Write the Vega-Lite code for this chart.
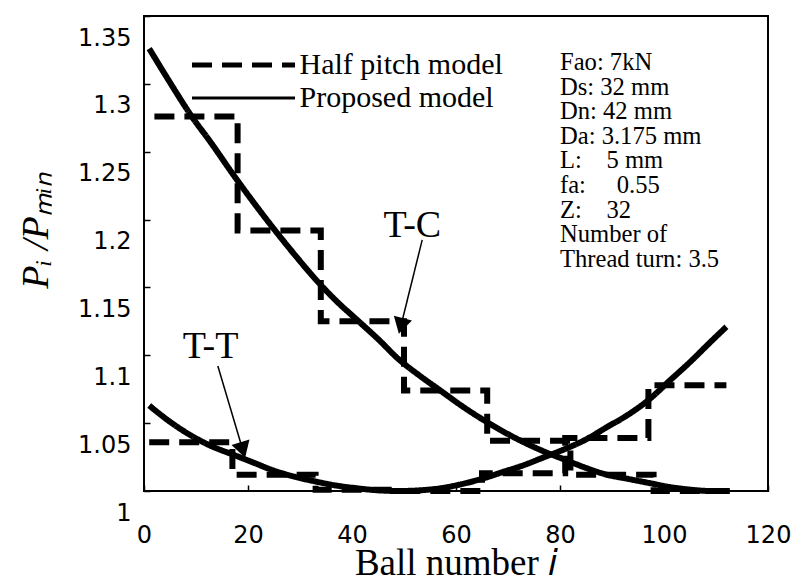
{
  "$schema": "https://vega.github.io/schema/vega-lite/v6.json",
  "width": 624,
  "height": 475,
  "autosize": "none",
  "padding": {"left": 144, "top": 16, "right": 36, "bottom": 90},
  "background": "white",
  "config": {
    "view": {"stroke": "black", "strokeWidth": 2},
    "axis": {"grid": false, "domain": false}
  },
  "datasets": {
    "curves": [
      {"curve": "TC-half", "model": "Half pitch model", "x": 2, "y": 1.276},
      {"curve": "TC-half", "model": "Half pitch model", "x": 18, "y": 1.192},
      {"curve": "TC-half", "model": "Half pitch model", "x": 34, "y": 1.125},
      {"curve": "TC-half", "model": "Half pitch model", "x": 50, "y": 1.074},
      {"curve": "TC-half", "model": "Half pitch model", "x": 66, "y": 1.037},
      {"curve": "TC-half", "model": "Half pitch model", "x": 82, "y": 1.012},
      {"curve": "TC-half", "model": "Half pitch model", "x": 98, "y": 1.0},
      {"curve": "TC-half", "model": "Half pitch model", "x": 114, "y": 1.0},
      {"curve": "TT-half", "model": "Half pitch model", "x": 1, "y": 1.036},
      {"curve": "TT-half", "model": "Half pitch model", "x": 17, "y": 1.012},
      {"curve": "TT-half", "model": "Half pitch model", "x": 33, "y": 1.001},
      {"curve": "TT-half", "model": "Half pitch model", "x": 49, "y": 1.0},
      {"curve": "TT-half", "model": "Half pitch model", "x": 65, "y": 1.013},
      {"curve": "TT-half", "model": "Half pitch model", "x": 81, "y": 1.039},
      {"curve": "TT-half", "model": "Half pitch model", "x": 97, "y": 1.078},
      {"curve": "TT-half", "model": "Half pitch model", "x": 112, "y": 1.078},
      {"curve": "TC-prop", "model": "Proposed model", "x": 1, "y": 1.326},
      {"curve": "TC-prop", "model": "Proposed model", "x": 5, "y": 1.301},
      {"curve": "TC-prop", "model": "Proposed model", "x": 9, "y": 1.277},
      {"curve": "TC-prop", "model": "Proposed model", "x": 13, "y": 1.256},
      {"curve": "TC-prop", "model": "Proposed model", "x": 17, "y": 1.234},
      {"curve": "TC-prop", "model": "Proposed model", "x": 21, "y": 1.213},
      {"curve": "TC-prop", "model": "Proposed model", "x": 25, "y": 1.193},
      {"curve": "TC-prop", "model": "Proposed model", "x": 29, "y": 1.174},
      {"curve": "TC-prop", "model": "Proposed model", "x": 33, "y": 1.156},
      {"curve": "TC-prop", "model": "Proposed model", "x": 37, "y": 1.14},
      {"curve": "TC-prop", "model": "Proposed model", "x": 41, "y": 1.126},
      {"curve": "TC-prop", "model": "Proposed model", "x": 45, "y": 1.112},
      {"curve": "TC-prop", "model": "Proposed model", "x": 49, "y": 1.097},
      {"curve": "TC-prop", "model": "Proposed model", "x": 53, "y": 1.085},
      {"curve": "TC-prop", "model": "Proposed model", "x": 57, "y": 1.074},
      {"curve": "TC-prop", "model": "Proposed model", "x": 61, "y": 1.063},
      {"curve": "TC-prop", "model": "Proposed model", "x": 65, "y": 1.053},
      {"curve": "TC-prop", "model": "Proposed model", "x": 69, "y": 1.044},
      {"curve": "TC-prop", "model": "Proposed model", "x": 73, "y": 1.036},
      {"curve": "TC-prop", "model": "Proposed model", "x": 77, "y": 1.029},
      {"curve": "TC-prop", "model": "Proposed model", "x": 81, "y": 1.023},
      {"curve": "TC-prop", "model": "Proposed model", "x": 85, "y": 1.017},
      {"curve": "TC-prop", "model": "Proposed model", "x": 89, "y": 1.012},
      {"curve": "TC-prop", "model": "Proposed model", "x": 93, "y": 1.009},
      {"curve": "TC-prop", "model": "Proposed model", "x": 97, "y": 1.006},
      {"curve": "TC-prop", "model": "Proposed model", "x": 101, "y": 1.003},
      {"curve": "TC-prop", "model": "Proposed model", "x": 105, "y": 1.001},
      {"curve": "TC-prop", "model": "Proposed model", "x": 109, "y": 1.0},
      {"curve": "TC-prop", "model": "Proposed model", "x": 112, "y": 1.0},
      {"curve": "TT-prop", "model": "Proposed model", "x": 1, "y": 1.063},
      {"curve": "TT-prop", "model": "Proposed model", "x": 5, "y": 1.051},
      {"curve": "TT-prop", "model": "Proposed model", "x": 9, "y": 1.041},
      {"curve": "TT-prop", "model": "Proposed model", "x": 13, "y": 1.033},
      {"curve": "TT-prop", "model": "Proposed model", "x": 17, "y": 1.027},
      {"curve": "TT-prop", "model": "Proposed model", "x": 21, "y": 1.021},
      {"curve": "TT-prop", "model": "Proposed model", "x": 25, "y": 1.015},
      {"curve": "TT-prop", "model": "Proposed model", "x": 29, "y": 1.0105},
      {"curve": "TT-prop", "model": "Proposed model", "x": 33, "y": 1.007},
      {"curve": "TT-prop", "model": "Proposed model", "x": 37, "y": 1.004},
      {"curve": "TT-prop", "model": "Proposed model", "x": 41, "y": 1.002},
      {"curve": "TT-prop", "model": "Proposed model", "x": 45, "y": 1.0005},
      {"curve": "TT-prop", "model": "Proposed model", "x": 49, "y": 1.0},
      {"curve": "TT-prop", "model": "Proposed model", "x": 53, "y": 1.0005},
      {"curve": "TT-prop", "model": "Proposed model", "x": 57, "y": 1.002},
      {"curve": "TT-prop", "model": "Proposed model", "x": 61, "y": 1.005},
      {"curve": "TT-prop", "model": "Proposed model", "x": 65, "y": 1.009},
      {"curve": "TT-prop", "model": "Proposed model", "x": 69, "y": 1.014},
      {"curve": "TT-prop", "model": "Proposed model", "x": 73, "y": 1.019},
      {"curve": "TT-prop", "model": "Proposed model", "x": 77, "y": 1.025},
      {"curve": "TT-prop", "model": "Proposed model", "x": 81, "y": 1.031},
      {"curve": "TT-prop", "model": "Proposed model", "x": 85, "y": 1.038},
      {"curve": "TT-prop", "model": "Proposed model", "x": 89, "y": 1.047},
      {"curve": "TT-prop", "model": "Proposed model", "x": 93, "y": 1.056},
      {"curve": "TT-prop", "model": "Proposed model", "x": 97, "y": 1.067},
      {"curve": "TT-prop", "model": "Proposed model", "x": 101, "y": 1.081},
      {"curve": "TT-prop", "model": "Proposed model", "x": 105, "y": 1.095},
      {"curve": "TT-prop", "model": "Proposed model", "x": 109, "y": 1.11},
      {"curve": "TT-prop", "model": "Proposed model", "x": 112, "y": 1.121}
    ],
    "labels": [
      {"label": "T-C", "x": 51.6, "y": 1.1872},
      {"label": "T-T", "x": 12.8, "y": 1.098}
    ],
    "shafts": [
      {"x": 53.5, "y": 1.185, "x2": 49.4, "y2": 1.1216},
      {"x": 14.2, "y": 1.0921, "x2": 19.0, "y2": 1.0302}
    ],
    "heads": [
      {"x": 49.4, "y": 1.1216, "ang": 14.5},
      {"x": 19.0, "y": 1.0302, "ang": -16.5}
    ],
    "info": [
      {"x": 80, "y": 1.3102, "text": "Fao: 7kN\nDs: 32 mm\nDn: 42 mm\nDa: 3.175 mm\nL:\u00a0\u00a0\u00a0\u00a05 mm\nfa:\u00a0\u00a0\u00a0\u00a0\u00a00.55\nZ:\u00a0\u00a0\u00a0\u00a032\nNumber of\nThread turn: 3.5"}
    ]
  },
  "encoding": {
    "x": {
      "field": "x",
      "type": "quantitative",
      "scale": {"domain": [0, 120], "nice": false, "zero": false},
      "axis": {
        "values": [0, 20, 40, 60, 80, 100, 120],
        "tickSize": -6,
        "tickColor": "black",
        "tickWidth": 1.5,
        "labelFont": "DejaVu Sans",
        "labelFontSize": 24,
        "labelColor": "black",
        "labelPadding": 38.5,
        "labelFlush": false,
        "labelOverlap": false,
        "title": "Ball number 𝑖",
        "titleFont": "Liberation Serif",
        "titleFontSize": 37,
        "titleFontWeight": "normal",
        "titleColor": "black",
        "titleBaseline": "alphabetic",
        "titleY": 83
      }
    },
    "y": {
      "field": "y",
      "type": "quantitative",
      "scale": {"domain": [1, 1.35], "nice": false, "zero": false},
      "axis": {
        "values": [1, 1.05, 1.1, 1.15, 1.2, 1.25, 1.3, 1.35],
        "format": ".2~f",
        "tickSize": -6,
        "tickColor": "black",
        "tickWidth": 1.5,
        "labelFont": "DejaVu Sans",
        "labelFontSize": 24,
        "labelColor": "black",
        "labelPadding": 19,
        "labelOffset": 22,
        "labelOverlap": false,
        "title": "Pᵢ /Pₘᵢₙ",
        "titleFont": "Liberation Serif",
        "titleFontStyle": "italic",
        "titleFontSize": 38,
        "titleFontWeight": "normal",
        "titleColor": "black",
        "titleAngle": -90,
        "titleBaseline": "alphabetic",
        "titleAlign": "center",
        "titleX": -97,
        "titleY": 214
      }
    }
  },
  "layer": [
    {
      "data": {"name": "curves"},
      "transform": [{"filter": "datum.model === 'Half pitch model'"}],
      "mark": {"type": "line", "interpolate": "step-after", "color": "black", "strokeWidth": 6, "strokeCap": "butt"},
      "encoding": {
        "detail": {"field": "curve", "type": "nominal"},
        "strokeDash": {
          "field": "model",
          "type": "nominal",
          "scale": {"domain": ["Half pitch model", "Proposed model"], "range": [[20, 10], [1, 0]]},
          "legend": {
            "orient": "none",
            "legendX": 48,
            "legendY": 34,
            "title": null,
            "padding": 0,
            "symbolType": "stroke",
            "symbolSize": 10609,
            "symbolStrokeWidth": 4,
            "symbolStrokeColor": "black",
            "symbolOffset": 36.5,
            "labelFont": "Liberation Serif",
            "labelFontSize": 30,
            "labelColor": "black",
            "labelOffset": 41,
            "labelLimit": 500,
            "rowPadding": 3,
            "encode": {
              "symbols": {
                "update": {
                  "strokeDash": {"signal": "datum.value === 'Half pitch model' ? [12, 5] : [1, 0]"},
                  "strokeWidth": {"signal": "datum.value === 'Half pitch model' ? 5 : 3"}
                }
              }
            }
          }
        }
      }
    },
    {
      "data": {"name": "curves"},
      "transform": [{"filter": "datum.model === 'Proposed model'"}],
      "mark": {"type": "line", "interpolate": "monotone", "color": "black", "strokeWidth": 6, "strokeCap": "butt"},
      "encoding": {
        "detail": {"field": "curve", "type": "nominal"},
        "strokeDash": {
          "field": "model",
          "type": "nominal",
          "scale": {"domain": ["Half pitch model", "Proposed model"], "range": [[20, 10], [1, 0]]}
        }
      }
    },
    {
      "data": {"name": "shafts"},
      "mark": {"type": "rule", "color": "black", "strokeWidth": 1.5},
      "encoding": {
        "x2": {"field": "x2"},
        "y2": {"field": "y2"}
      }
    },
    {
      "data": {"name": "heads"},
      "mark": {"type": "point", "shape": "triangle-down", "filled": true, "color": "black", "size": 350, "opacity": 1},
      "encoding": {
        "angle": {"field": "ang", "type": "quantitative", "scale": null}
      }
    },
    {
      "data": {"name": "labels"},
      "mark": {"type": "text", "font": "Liberation Serif", "fontSize": 38, "align": "center", "baseline": "alphabetic", "color": "black"},
      "encoding": {
        "text": {"field": "label", "type": "nominal"}
      }
    },
    {
      "data": {"name": "info"},
      "mark": {"type": "text", "font": "Liberation Serif", "fontSize": 24.6, "lineHeight": 24.6, "lineBreak": "\n", "align": "left", "baseline": "alphabetic", "color": "black"},
      "encoding": {
        "text": {"field": "text", "type": "nominal"}
      }
    }
  ]
}
